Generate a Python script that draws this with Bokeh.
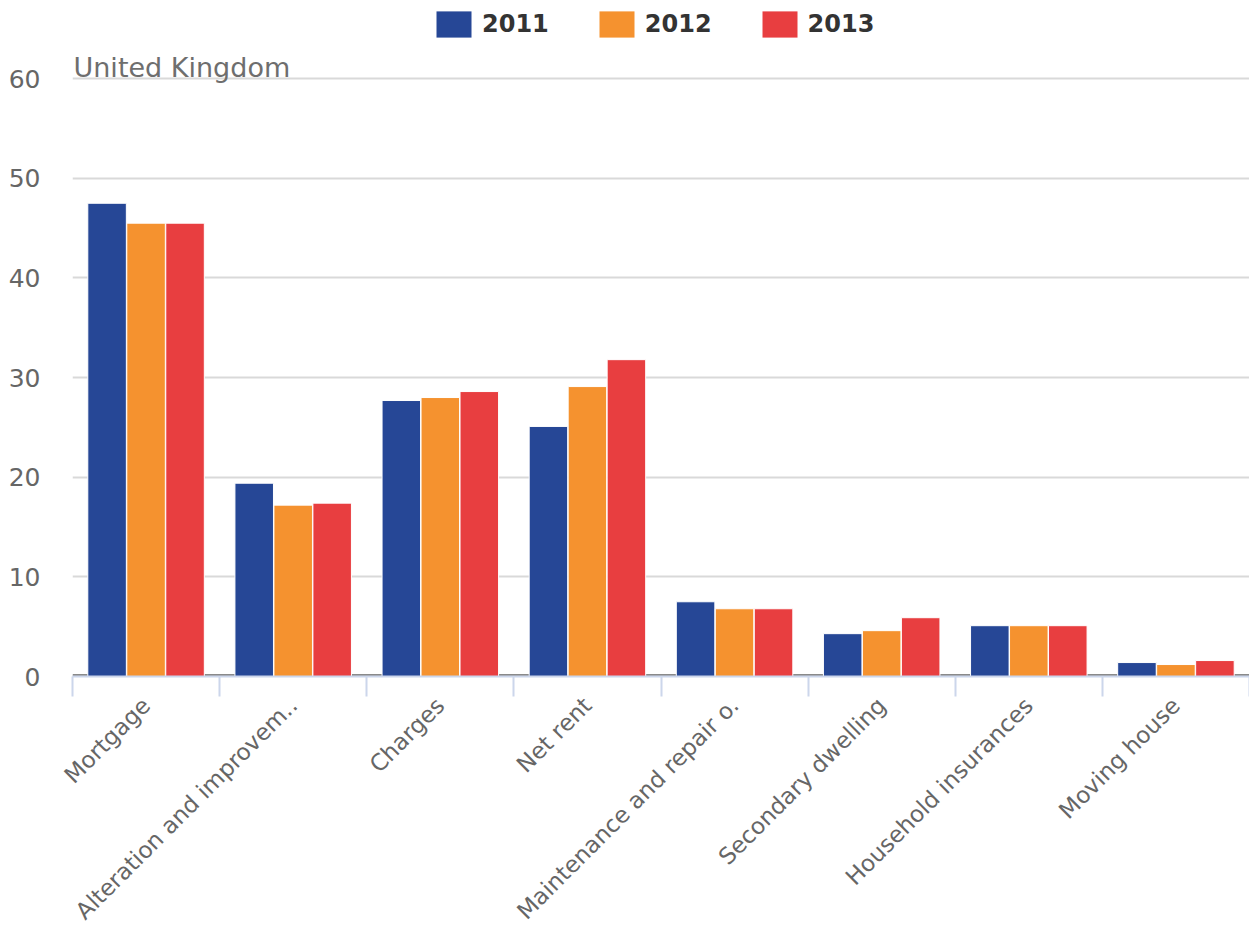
from math import pi
from bokeh.plotting import figure
from bokeh.models import (ColumnDataSource, FactorRange, Range1d, FixedTicker, LinearAxis,
                          CategoricalAxis, Legend, LegendItem, Label, Span, CustomLabelingPolicy)
from bokeh.transform import dodge
from bokeh.embed import file_html
from bokeh.resources import INLINE

categories = ["Mortgage", "Alteration and improvem..", "Charges", "Net rent",
              "Maintenance and repair o.", "Secondary dwelling", "Household insurances", "Moving house"]
years = ["2011", "2012", "2013"]
v2011 = [47.5, 19.4, 27.7, 25.1, 7.5, 4.3, 5.1, 1.4]
v2012 = [45.5, 17.2, 28.0, 29.1, 6.8, 4.6, 5.1, 1.2]
v2013 = [45.5, 17.4, 28.6, 31.8, 6.8, 5.9, 5.1, 1.6]
y_ticks = [0, 10, 20, 30, 40, 50, 60]
subtitle = "United Kingdom"

colors = ["#264796", "#F5922F", "#E83E40"]
FONT = "DejaVu Sans"

src = ColumnDataSource(dict(cat=categories, y2011=v2011, y2012=v2012, y2013=v2013))

p = figure(width=1249, height=944, output_backend="svg", toolbar_location=None,
           x_range=FactorRange(*categories, range_padding=0),
           y_range=Range1d(0, 67.85), x_axis_location=None,
           min_border_left=72, min_border_right=0, min_border_top=0, min_border_bottom=268)
p.outline_line_color = None
p.background_fill_color = "white"

# zero line (dark grey) under the bars
p.add_layout(Span(location=0, dimension="width", line_color="#8a8a8a", line_width=5, level="underlay"))

offsets = [-0.265, 0.0, 0.265]
renderers = []
for yr, col, off in zip(years, colors, offsets):
    r = p.vbar(x=dodge("cat", off, range=p.x_range), top="y" + yr, width=0.262, source=src,
               fill_color=col, line_color="white", line_width=1)
    renderers.append(r)

# y axis / grid
p.yaxis.ticker = FixedTicker(ticks=y_ticks)
p.yaxis.axis_line_color = None
p.yaxis.major_tick_line_color = None
p.yaxis.major_tick_out = 0
p.yaxis.major_tick_in = 0
p.yaxis.minor_tick_line_color = None
p.yaxis.major_label_standoff = 32
p.yaxis.major_label_text_font = FONT
p.yaxis.major_label_text_font_size = "25px"
p.yaxis.major_label_text_color = "#666666"
p.ygrid.ticker = FixedTicker(ticks=y_ticks)
p.ygrid.grid_line_color = "#d9d9d9"
p.ygrid.grid_line_width = 2
p.xgrid.grid_line_color = None

# tick marks at category boundaries (synthetic coordinates of the factor range), no labels
tick_axis = LinearAxis(ticker=FixedTicker(ticks=list(range(len(categories) + 1))))
tick_axis.major_tick_out = 20
tick_axis.major_tick_in = 0
tick_axis.major_tick_line_color = "#ccd6eb"
tick_axis.major_tick_line_width = 2
tick_axis.minor_tick_line_color = None
tick_axis.axis_line_color = "#ccd6eb"
tick_axis.axis_line_width = 2
tick_axis.major_label_text_font_size = "0px"
tick_axis.major_label_standoff = 0
tick_axis.axis_label_standoff = 0
tick_axis.major_label_policy = CustomLabelingPolicy(code="return []")
p.add_layout(tick_axis, "below")

cat_axis = CategoricalAxis()
cat_axis.axis_line_color = None
cat_axis.major_tick_line_color = None
cat_axis.major_tick_out = 0
cat_axis.major_tick_in = 0
cat_axis.minor_tick_line_color = None
cat_axis.major_label_orientation = pi / 4
cat_axis.major_label_standoff = 5
cat_axis.major_label_text_font = FONT
cat_axis.major_label_text_font_size = "23px"
cat_axis.major_label_text_color = "#666666"
p.add_layout(cat_axis, "below")

legend = Legend(items=[LegendItem(label=yr, renderers=[r]) for yr, r in zip(years, renderers)],
                location=(359, 635), orientation="horizontal")
legend.glyph_width = 45
legend.glyph_height = 34
legend.label_standoff = 6
legend.spacing = 45
legend.margin = 0
legend.padding = 9
legend.border_line_color = None
legend.background_fill_alpha = 0
legend.label_text_font = FONT
legend.label_text_font_style = "bold"
legend.label_text_font_size = "24px"
legend.label_text_color = "#333333"
p.add_layout(legend, "center")

p.add_layout(Label(x=1, x_units="screen", y=60, y_units="data", text=subtitle,
                   text_font=FONT, text_font_size="27px", text_color="#6e6e6e",
                   text_baseline="alphabetic", y_offset=11))

open("out.html", "w").write(file_html(p, INLINE))
